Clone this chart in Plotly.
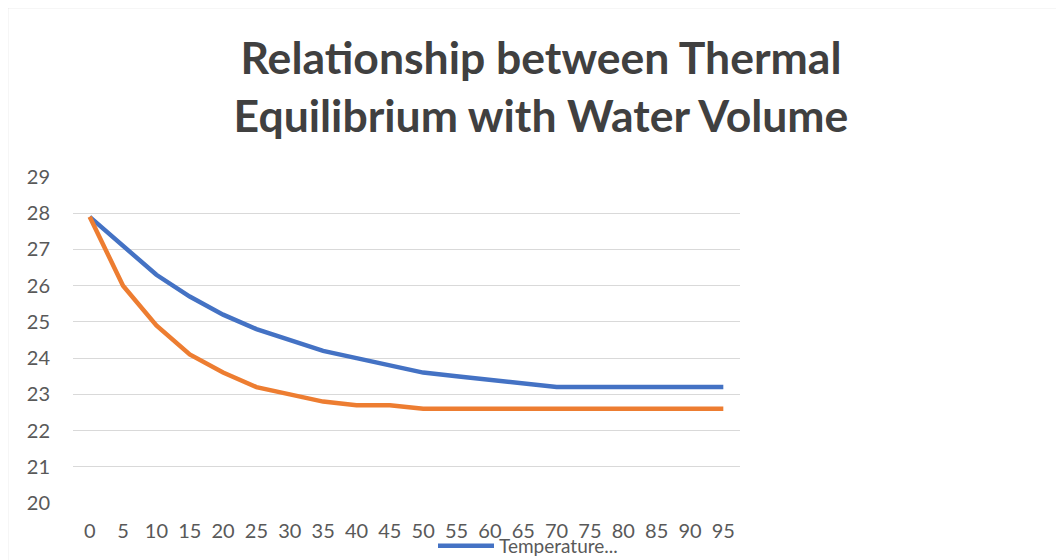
import plotly.graph_objects as go

categories = [str(v) for v in range(0, 100, 5)]
blue_values = [27.9, 27.1, 26.3, 25.7, 25.2, 24.8, 24.5, 24.2, 24.0, 23.8,
               23.6, 23.5, 23.4, 23.3, 23.2, 23.2, 23.2, 23.2, 23.2, 23.2]
orange_values = [27.9, 26.0, 24.9, 24.1, 23.6, 23.2, 23.0, 22.8, 22.7, 22.7,
                 22.6, 22.6, 22.6, 22.6, 22.6, 22.6, 22.6, 22.6, 22.6, 22.6]
blue_name = "Temperature..."
orange_name = "Temperature 2"
title_text = "Relationship between Thermal<br>Equilibrium with Water Volume"

W, H = 1064, 560
OFF = 8  # page body margin
L, T = 73 - OFF, 177 - OFF
pw, ph = 667, 326
R = W - L - pw
B = H - T - ph

def px(x):
    return (x - OFF - L) / pw

def py(y):
    return 1 - (y - OFF - T) / ph

FONT = "Lato"
TXT = "#595959"

fig = go.Figure()
fig.add_trace(go.Scatter(x=categories, y=blue_values, mode="lines", name=blue_name,
                         line=dict(color="#4472C4", width=4.5), showlegend=True))
fig.add_trace(go.Scatter(x=categories, y=orange_values, mode="lines", name=orange_name,
                         line=dict(color="#ED7D31", width=4.5), showlegend=False))

fig.update_layout(
    width=W, height=H,
    margin=dict(l=L, r=R, t=T, b=B, autoexpand=False),
    paper_bgcolor="white", plot_bgcolor="white",
    font=dict(family=FONT, color=TXT, size=20),
    title=dict(text=title_text, x=(541 - OFF) / W, xanchor="center",
               y=1 - 66 / H, yanchor="middle",
               xref="container", yref="container",
               font=dict(family=FONT, size=44.5, color="#404040", weight="bold")),
    legend=dict(x=px(433), y=py(546), xanchor="left", yanchor="middle",
                bgcolor="rgba(0,0,0,0)", font=dict(size=19, color=TXT),
                itemwidth=56),
    xaxis=dict(type="category", range=[-0.5, 19.5], showgrid=False, showline=False,
               ticks="", zeroline=False, tickfont=dict(size=20, color=TXT),
               ticklabelstandoff=14),
    yaxis=dict(range=[20, 29], dtick=1, tick0=20, showgrid=True, gridcolor="#D9D9D9",
               gridwidth=1, zeroline=False, showline=False, ticks="",
               tickfont=dict(size=20, color=TXT), ticklabelstandoff=22),
    shapes=[dict(type="rect", xref="paper", yref="paper",
                 x0=px(7.5), x1=px(1080), y0=py(600), y1=py(7.5),
                 line=dict(color="#D9D9D9", width=1.5), layer="below")],
)

fig.write_html("out.html")
